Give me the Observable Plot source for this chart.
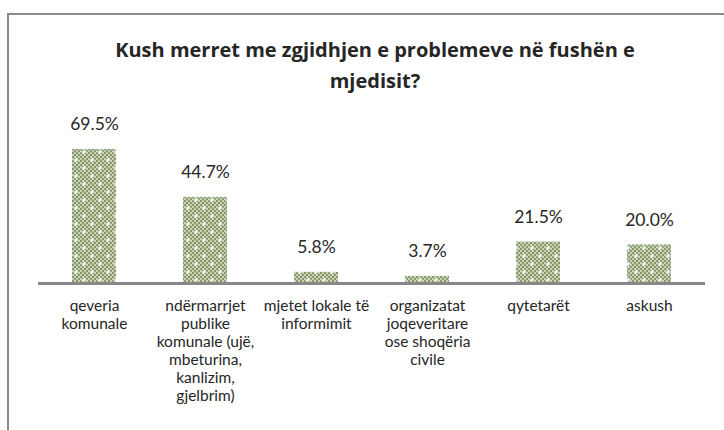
<!DOCTYPE html>
<html>
<head>
<meta charset="utf-8">
<script src="https://cdn.jsdelivr.net/npm/d3@7"></script>
<script src="https://cdn.jsdelivr.net/npm/@observablehq/plot@0.6"></script>
<style>
  body { margin: 0; width: 724px; height: 430px; overflow: hidden; background: #fff; font-family: Lato, "Open Sans", sans-serif; position: relative; }
  #frame { position: absolute; left: 7px; top: 13px; width: 800px; height: 500px; border: 2px solid #8a8a8a; box-sizing: border-box; }
  #title { position: absolute; left: 0; top: 34px; width: 750px; text-align: center; font-family: "Open Sans", Lato, sans-serif; font-weight: bold; font-size: 20px; line-height: 31px; color: #262626; }
  #chart { position: absolute; left: 0; top: 100px; }
</style>
</head>
<body>
<div id="frame"></div>
<div id="title">Kush merret me zgjidhjen e problemeve në fushën e<br>mjedisit?</div>
<div id="chart"></div>
<script>
const categories = [
  "qeveria\nkomunale",
  "ndërmarrjet\npublike\nkomunale (ujë,\nmbeturina,\nkanlizim,\ngjelbrim)",
  "mjetet lokale të\ninformimit",
  "organizatat\njoqeveritare\nose shoqëria\ncivile",
  "qytetarët",
  "askush"
];
const values = [69.5, 44.7, 5.8, 3.7, 21.5, 20.0];

const data = categories.map((c, i) => ({category: c, value: values[i]}));

const svg = Plot.plot({
  width: 724,
  height: 330,
  marginLeft: 38,
  marginRight: 19,
  marginTop: 0,
  marginBottom: 147,
  style: {fontFamily: "Lato, 'Open Sans', sans-serif", color: "#262626", background: "transparent"},
  x: {domain: categories, paddingInner: 0.6, paddingOuter: 0.3, align: 0.5},
  y: {domain: [0, 69.5], range: [183, 49], axis: null},
  marks: [
    Plot.barY(data, {x: "category", y: "value", fill: "url(#greenpat)"}),
    Plot.ruleY([0], {stroke: "#878787", strokeWidth: 3}),
    Plot.text(data, {x: "category", y: "value", text: d => d.value.toFixed(1) + "%", dy: -25, fontSize: 17.5, fill: "#262626"}),
    Plot.axisX({tickSize: 0, tickPadding: 15, fontSize: 15.5, lineHeight: 1.16, label: null, fill: "#262626"})
  ]
});

const defs = d3.select(svg).insert("defs", ":first-child");
const pat = defs.append("pattern")
  .attr("id", "greenpat")
  .attr("patternUnits", "userSpaceOnUse")
  .attr("width", 16).attr("height", 16);
pat.append("rect").attr("width", 16).attr("height", 16).attr("fill", "#c8d1b6");
for (let i = 0; i < 8; i++) {
  for (let j = 0; j < 8; j++) {
    if ((i + j) % 2 === 0) {
      pat.append("rect").attr("x", i * 2).attr("y", j * 2).attr("width", 2).attr("height", 2).attr("fill", "#879b6b");
    }
  }
}
for (const [cx, cy] of [[4, 4], [12, 12]]) {
  pat.append("rect").attr("x", cx - 1).attr("y", cy - 1).attr("width", 2).attr("height", 2).attr("fill", "#ffffff");
  pat.append("rect").attr("x", cx - 3).attr("y", cy - 0.5).attr("width", 6).attr("height", 1).attr("fill", "#f2f4ee");
  pat.append("rect").attr("x", cx - 0.5).attr("y", cy - 3).attr("width", 1).attr("height", 6).attr("fill", "#f2f4ee");
}

document.getElementById("chart").appendChild(svg);
</script>
</body>
</html>
